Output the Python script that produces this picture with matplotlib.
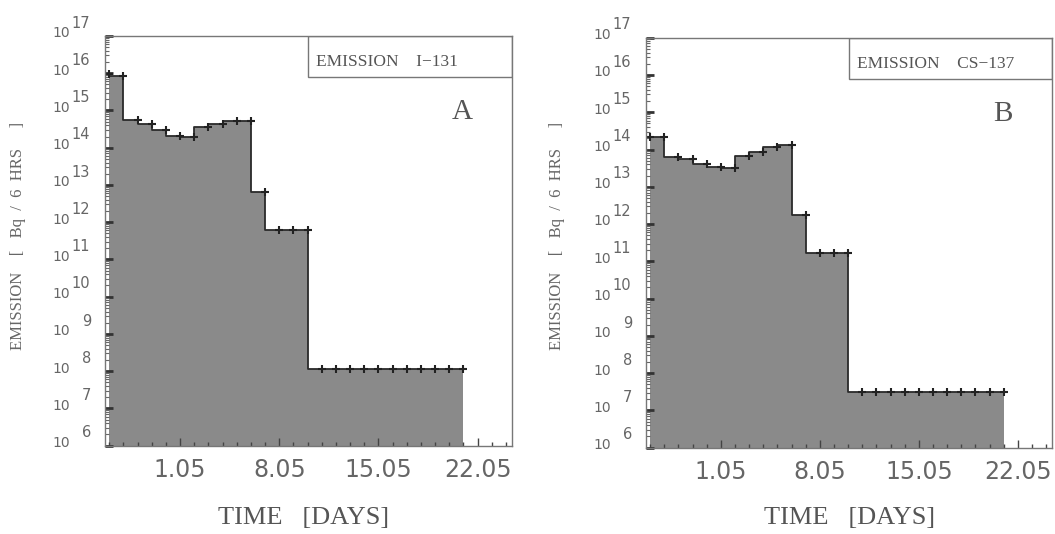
import numpy as np
import matplotlib.pyplot as plt
from matplotlib.ticker import LogLocator, NullFormatter

# days since 26 April (marker positions) and log10 emission per 6 h
days = [0, 1, 2, 3, 4, 5, 6, 7, 8, 9, 10, 11, 12, 13, 14, 15, 16, 17, 18, 19, 20, 21, 22, 23, 24, 25]
i131_log = [15.98, 15.93, 14.74, 14.64, 14.48, 14.31, 14.29, 14.56, 14.64, 14.72, 14.72, 12.81, 11.79,
            11.79, 11.79, 8.06, 8.06, 8.06, 8.06, 8.06, 8.06, 8.06, 8.06, 8.06, 8.06, 8.06]
cs137_log = [14.34, 14.34, 13.81, 13.74, 13.61, 13.52, 13.51, 13.83, 13.94, 14.08, 14.12, 12.24, 11.22,
             11.22, 11.22, 7.49, 7.49, 7.49, 7.49, 7.49, 7.49, 7.49, 7.49, 7.49, 7.49, 7.49]

date_ticks = [5, 12, 19, 26]
date_labels = ['1.05', '8.05', '15.05', '22.05']
decades = list(range(6, 18))

panels = [
    ('EMISSION    I\u2212131', 'A', i131_log, [0.0995, 0.1654, 0.3855, 0.7672], 18, 304),
    ('EMISSION    CS\u2212137', 'B', cs137_log, [0.6123, 0.1616, 0.3846, 0.7678], 557, 850),
]

txt = '#555555'
fig = plt.figure(figsize=(10.55, 5.34), dpi=100)

for box_text, letter, logs, rect, ylab_x, xlab_x in panels:
    ax = fig.add_axes(rect)
    vals = 10.0 ** np.array(logs)
    ax.fill_between(days, vals, 1e5, step='pre', color='#8a8a8a', lw=0)
    ax.plot(days, vals, drawstyle='steps-pre', color='#2a2a2a', lw=1.3)
    ax.plot(days, vals, ls='none', marker='+', ms=5.5, mew=1.5, color='#222222')

    ax.set_yscale('log')
    ax.set_ylim(1e6, 1e17)
    ax.set_xlim(-0.3, 28.4)

    for s in ax.spines.values():
        s.set_color('#777777')
        s.set_linewidth(1.0)

    ax.set_xticks(date_ticks)
    ax.set_xticklabels(date_labels, fontsize=17, family='DejaVu Sans', color='#666666')
    ax.set_xticks(range(0, 29), minor=True)
    ax.tick_params(axis='x', which='major', direction='in', length=6, width=1, color='#444444', pad=9)
    ax.tick_params(axis='x', which='minor', direction='in', length=3, width=1, color='#444444')

    ax.set_yticks([10.0 ** k for k in decades])
    ax.set_yticklabels([])
    ax.yaxis.set_minor_locator(LogLocator(base=10, subs=np.arange(2, 10), numticks=200))
    ax.yaxis.set_minor_formatter(NullFormatter())
    ax.tick_params(axis='y', which='major', direction='in', length=6, width=2, color='#333333')
    ax.tick_params(axis='y', which='minor', direction='in', length=3, width=0.8, color='#666666')

    # y labels drawn by hand: "10" on the tick baseline, exponent raised
    for k in decades:
        ax.annotate('10', xy=(0, 10.0 ** k), xycoords=('axes fraction', 'data'),
                    xytext=(-35 * 0.72, -1), textcoords='offset points', ha='right', va='baseline',
                    fontsize=10, family='DejaVu Sans', color='#666666', annotation_clip=False)
        dx = -34 if k >= 10 else -23
        ax.annotate(str(k), xy=(0, 10.0 ** k), xycoords=('axes fraction', 'data'),
                    xytext=(dx * 0.72, 6), textcoords='offset points', ha='left', va='baseline',
                    fontsize=10.5, family='DejaVu Sans', color='#666666', annotation_clip=False)

    ax.add_patch(plt.Rectangle((0.5, 0.9), 0.5, 0.1, transform=ax.transAxes, fill=False,
                               edgecolor='#777777', lw=1.0))
    ax.text(0.519, 0.937, box_text, transform=ax.transAxes, ha='left', va='center',
            fontsize=12.5, family='Liberation Serif', color=txt)
    ax.text(0.879, 0.815, letter, transform=ax.transAxes, ha='center', va='center',
            fontsize=21, family='Liberation Serif', color=txt)

    fig.text(ylab_x / 1055, 0.558, 'EMISSION    [   Bq  /  6  HRS     ]', rotation=90,
             ha='center', va='center', fontsize=12, family='Liberation Serif', color='#666666')
    fig.text(xlab_x / 1055, 0.03, 'TIME   [DAYS]', ha='center', va='center',
             fontsize=19, family='Liberation Serif', color=txt)

fig.savefig('out.png', dpi=100)
